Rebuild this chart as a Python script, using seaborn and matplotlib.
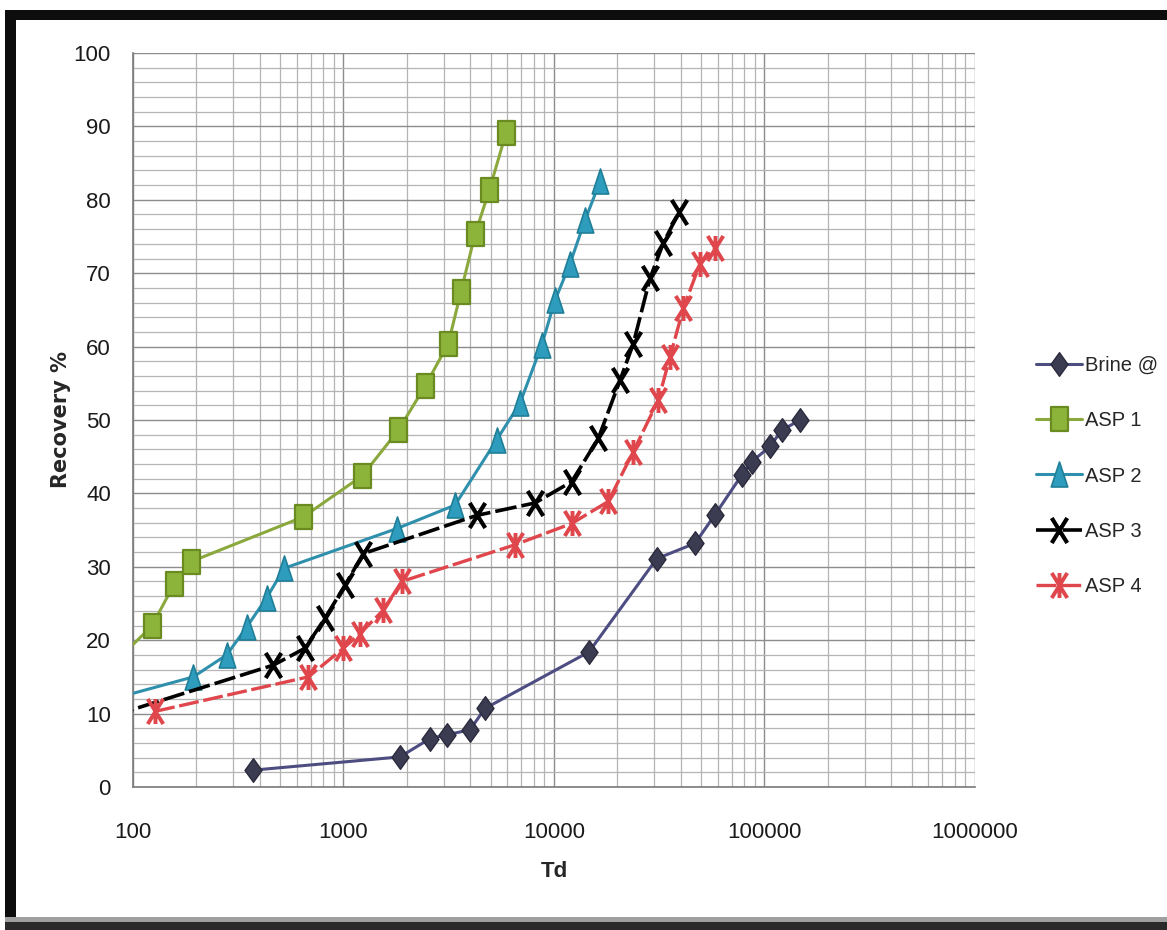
import numpy as np
import pandas as pd
import matplotlib
matplotlib.use("Agg")
import matplotlib.pyplot as plt
from matplotlib.path import Path
from matplotlib.patches import Rectangle
from matplotlib.ticker import LogLocator, MultipleLocator, FixedLocator, NullFormatter
from matplotlib import font_manager
import seaborn as sns

# ---- data: dimensionless time (Td) vs. recovery (%) ----
brine_td = [373, 1855, 2576, 3093, 3990, 4700, 14660, 30760, 46770, 58200, 78000, 86900, 106200, 120700, 147400]
brine_rec = [2.3, 4.1, 6.6, 7.1, 7.8, 10.7, 18.4, 31.1, 33.2, 37.1, 42.5, 44.3, 46.4, 48.6, 50.0]

asp1_td = [80, 122.7, 156.6, 188.6, 644, 1228, 1821, 2439, 3146, 3616, 4215, 4927, 5916]
asp1_rec = [16.7, 21.9, 27.6, 30.7, 36.8, 42.4, 48.6, 54.6, 60.4, 67.5, 75.3, 81.3, 89.1]

asp2_td = [80, 193.4, 278.8, 347, 432, 523, 1789, 3386, 5343, 6895, 8738, 10110, 11912, 14034, 16542]
asp2_rec = [12.0, 15.0, 18.0, 21.8, 25.8, 29.8, 35.2, 38.4, 47.3, 52.3, 60.2, 66.3, 71.3, 77.2, 82.5]

asp3_td = [80, 464, 656, 817, 1017, 1242, 4294, 8124, 12134, 16236, 20590, 23807, 28580, 33050, 39380]
asp3_rec = [9.7, 16.6, 18.9, 23.0, 27.5, 31.8, 37.0, 38.7, 41.6, 47.5, 55.4, 60.4, 69.3, 74.1, 78.4]

asp4_td = [127.3, 680.5, 998, 1198, 1546, 1890, 6525, 12134, 18113, 23807, 31300, 35570, 41130, 49390, 58200]
asp4_rec = [10.3, 15.0, 18.9, 20.9, 24.1, 28.0, 33.0, 35.9, 38.9, 45.7, 52.7, 58.6, 65.2, 71.3, 73.4]

series_names = ["Brine @", "ASP 1", "ASP 2", "ASP 3", "ASP 4"]
x_ticks = [100, 1000, 10000, 100000, 1000000]
x_tick_labels = ["100", "1000", "10000", "100000", "1000000"]
y_ticks = [0, 10, 20, 30, 40, 50, 60, 70, 80, 90, 100]

frames = []
for name, td, rec in zip(series_names,
                         [brine_td, asp1_td, asp2_td, asp3_td, asp4_td],
                         [brine_rec, asp1_rec, asp2_rec, asp3_rec, asp4_rec]):
    frames.append(pd.DataFrame({"Td": td, "Recovery": rec, "series": name}))
df = pd.concat(frames, ignore_index=True)

# ---- tall marker shapes ----
def closed(verts):
    codes = [Path.MOVETO] + [Path.LINETO] * (len(verts) - 1) + [Path.CLOSEPOLY]
    return Path(verts + [verts[0]], codes)

square_m = closed([(-0.72, -1), (0.72, -1), (0.72, 1), (-0.72, 1)])
diamond_m = closed([(0, -1), (0.72, 0), (0, 1), (-0.72, 0)])
triangle_m = closed([(-0.66, -1), (0.66, -1), (0, 1)])
x_m = Path([(-0.62, -1), (0.62, 1), (-0.62, 1), (0.62, -1)],
           [Path.MOVETO, Path.LINETO, Path.MOVETO, Path.LINETO])
star_m = Path([(-0.62, -1), (0.62, 1), (-0.62, 1), (0.62, -1), (0, -1), (0, 1)],
              [Path.MOVETO, Path.LINETO, Path.MOVETO, Path.LINETO, Path.MOVETO, Path.LINETO])

styles = {
    "Brine @": dict(color="#4d4d82", lw=2.2, ls="-", marker=diamond_m, ms=17,
                    mfc="#3b3b52", mec="#2a2a3c", mew=1.0),
    "ASP 1": dict(color="#8aa83c", lw=2.2, ls="-", marker=square_m, ms=17,
                  mfc="#8db43a", mec="#6a8a22", mew=1.6),
    "ASP 2": dict(color="#2f90ad", lw=2.2, ls="-", marker=triangle_m, ms=18,
                  mfc="#2e9cbc", mec="#1f7f98", mew=1.2),
    "ASP 3": dict(color="#000000", lw=2.6, ls=(0, (6, 1.4)), marker=x_m, ms=18,
                  mfc="none", mec="#000000", mew=3.0),
    "ASP 4": dict(color="#e0474c", lw=2.4, ls=(0, (6, 1.4)), marker=star_m, ms=18,
                  mfc="none", mec="#e0474c", mew=2.8),
}

sns.set_style("white")
narrow = "Liberation Sans Narrow"
names_avail = {f.name for f in font_manager.fontManager.ttflist}
tick_family = [narrow, "DejaVu Sans"] if narrow in names_avail else ["Liberation Sans", "DejaVu Sans"]
plt.rcParams["font.family"] = tick_family

fig = plt.figure(figsize=(11.67, 9.3), dpi=100)
fig.patch.set_facecolor("white")
ax = fig.add_axes([133 / 1167, 1 - 787 / 930, (975 - 133) / 1167, (787 - 53) / 930])

for name in series_names:
    st = styles[name]
    sub = df[df["series"] == name]
    sns.lineplot(data=sub, x="Td", y="Recovery", ax=ax, estimator=None, sort=False,
                 color=st["color"], linewidth=st["lw"], linestyle=st["ls"],
                 marker=st["marker"], markersize=st["ms"], markerfacecolor=st["mfc"],
                 markeredgecolor=st["mec"], markeredgewidth=st["mew"], label=name,
                 zorder=3)

ax.set_xscale("log")
ax.set_xlim(100, 1000000)
ax.set_ylim(0, 100)

# gridlines
ax.xaxis.set_major_locator(FixedLocator(x_ticks))
ax.xaxis.set_minor_locator(LogLocator(base=10, subs=np.arange(2, 10)))
ax.xaxis.set_minor_formatter(NullFormatter())
ax.set_xticklabels(x_tick_labels)
ax.yaxis.set_major_locator(FixedLocator(y_ticks))
ax.yaxis.set_minor_locator(MultipleLocator(2))
ax.grid(which="major", color="#8c8c8c", linewidth=1.0)
ax.grid(which="minor", color="#b4b4b4", linewidth=0.9)
ax.set_axisbelow(True)

for side in ["top", "right"]:
    ax.spines[side].set_visible(False)
for side in ["left", "bottom"]:
    ax.spines[side].set_color("#7a7a7a")
    ax.spines[side].set_linewidth(1.2)

ax.tick_params(axis="both", which="major", direction="out", length=5, width=1,
               color="#7a7a7a", labelsize=16, labelcolor="#1a1a1a")
ax.tick_params(axis="y", which="major", pad=11)
ax.tick_params(axis="x", which="major", pad=20)
ax.tick_params(axis="both", which="minor", length=0)

ax.set_xlabel("Td", fontsize=16, fontweight="bold", labelpad=13)
ax.set_ylabel("Recovery %", fontsize=15, fontweight="bold", labelpad=2,
              family=["DejaVu Sans"])

leg = ax.legend(loc="center left", bbox_to_anchor=(1036 / 1167, 1 - 476 / 930),
                bbox_transform=fig.transFigure, frameon=False, fontsize=14.5,
                handlelength=2.3, handletextpad=0.15, labelspacing=1.8,
                borderpad=0, borderaxespad=0)

# outer frame
frame_color = "#0d0d0d"
fig.add_artist(Rectangle((5 / 1167, 0), 11 / 1167, 1 - 10 / 930, transform=fig.transFigure,
                         facecolor=frame_color, edgecolor="none"))
fig.add_artist(Rectangle((5 / 1167, 1 - 20 / 930), 1 - 5 / 1167, 10 / 930,
                         transform=fig.transFigure, facecolor=frame_color, edgecolor="none"))
fig.add_artist(Rectangle((5 / 1167, 0), 1 - 5 / 1167, 8 / 930, transform=fig.transFigure,
                         facecolor="#2a2a2a", edgecolor="none"))
fig.add_artist(Rectangle((5 / 1167, 8 / 930), 1 - 5 / 1167, 5 / 930, transform=fig.transFigure,
                         facecolor="#a0a0a0", edgecolor="none"))

fig.savefig("out.png", dpi=100, facecolor="white")
